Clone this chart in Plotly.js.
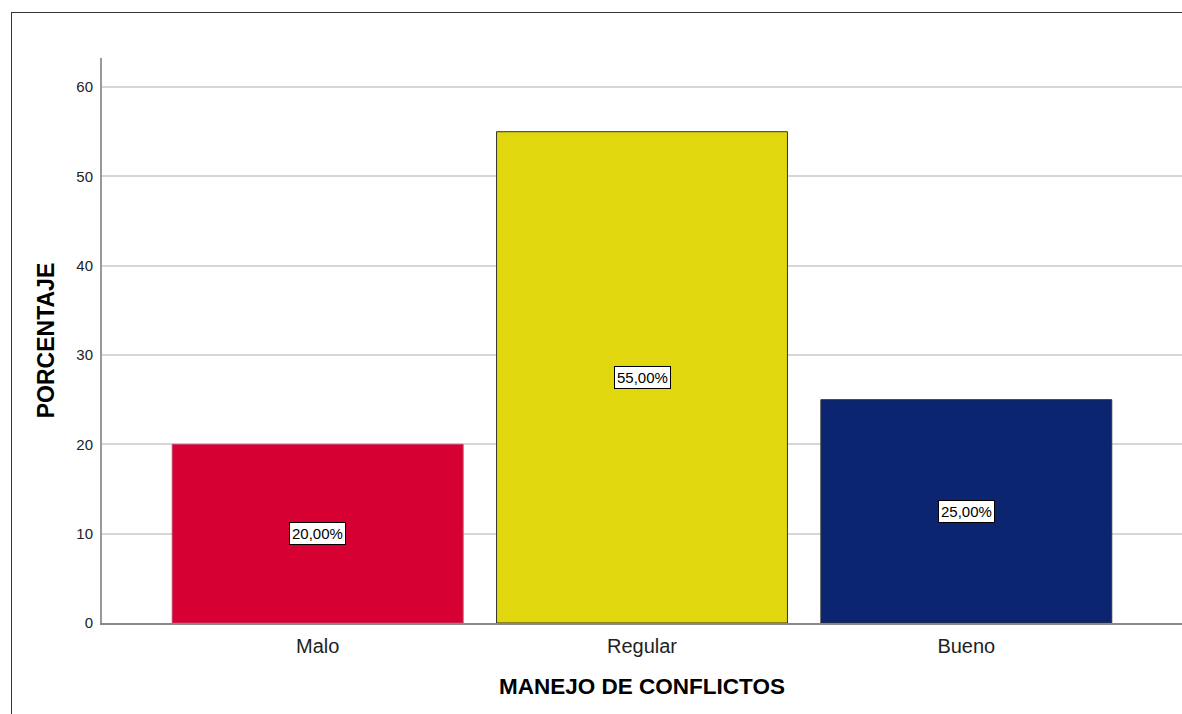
<!DOCTYPE html>
<html>
<head>
<meta charset="utf-8">
<script src="https://cdn.plot.ly/plotly-3.0.1.min.js"></script>
<style>
html,body{margin:0;padding:0;background:#fff;}
#frame{position:absolute;left:11px;top:12px;width:1171px;height:702px;border-top:1px solid #333;border-left:1px solid #333;}
#chart{position:absolute;left:0;top:0;width:1182px;height:714px;}
</style>
</head>
<body>
<div id="frame"></div>
<div id="chart"></div>
<script>
const categories = ["Malo", "Regular", "Bueno"];
const values = [20, 55, 25];
const colors = ["#D70032", "#E1D70F", "#0B2570"];
const lineColors = ["#c8406a", "#333333", "#333333"];
const yTicks = [0, 10, 20, 30, 40, 50, 60];

const xs = categories.map((c, i) => i);
const fmt = v => v.toFixed(2).replace('.', ',') + '%';

const trace = {
  type: 'bar',
  x: xs,
  y: values,
  width: 0.897,
  marker: {color: colors, line: {color: lineColors, width: 1}},
  hoverinfo: 'none'
};

const annotations = values.map((v, i) => ({
  x: xs[i], y: v / 2, xref: 'x', yref: 'y',
  text: fmt(v), showarrow: false,
  font: {family: 'Liberation Sans, Arial, sans-serif', size: 15, color: '#000'},
  bgcolor: '#ffffff', bordercolor: '#000000', borderwidth: 1, borderpad: 2
}));

const layout = {
  width: 1182, height: 714,
  margin: {l: 102, r: 0, t: 58, b: 91},
  paper_bgcolor: 'rgba(0,0,0,0)',
  plot_bgcolor: 'rgba(0,0,0,0)',
  showlegend: false,
  font: {family: 'Liberation Sans, Arial, sans-serif', color: '#000'},
  xaxis: {
    range: [-0.665, 2.665],
    tickmode: 'array', tickvals: xs, ticktext: categories,
    tickfont: {size: 20, color: '#222'},
    showgrid: false, zeroline: false,
    showline: true, linecolor: '#888', linewidth: 2,
    ticks: 'outside', ticklen: 4, tickcolor: 'rgba(0,0,0,0)',
    title: {text: '<b>MANEJO DE CONFLICTOS</b>', font: {size: 22.5, color: '#000'}, standoff: 22}
  },
  yaxis: {
    range: [0, 63.25],
    tickmode: 'array', tickvals: yTicks,
    tickfont: {size: 15, color: '#222'},
    showgrid: true, gridcolor: '#d6d6d6', gridwidth: 2,
    zeroline: false,
    showline: true, linecolor: '#999', linewidth: 2,
    ticks: 'outside', ticklen: 4, tickcolor: 'rgba(0,0,0,0)',
    title: {text: '<b>PORCENTAJE</b>', font: {size: 23, color: '#000'}, standoff: 15}
  },
  annotations: annotations
};

Plotly.newPlot('chart', [trace], layout, {displayModeBar: false, staticPlot: true});
</script>
</body>
</html>
